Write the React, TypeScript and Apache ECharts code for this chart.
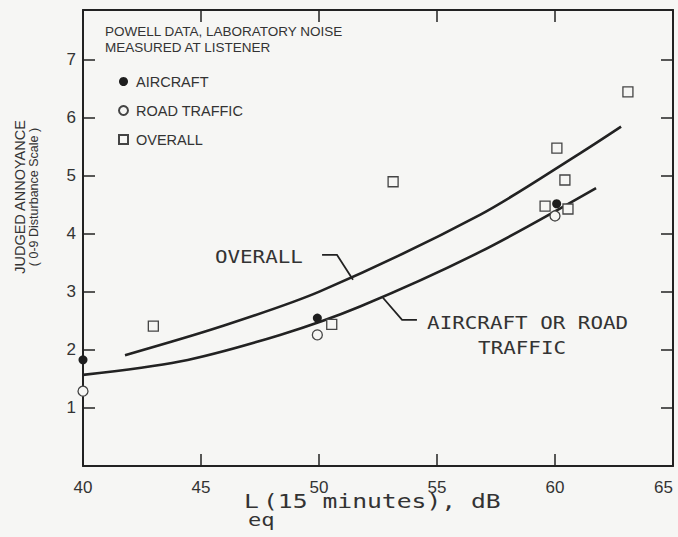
import React, { useEffect, useRef } from "react";
import * as echarts from "echarts";

// ---- data ----
const xTicks = [40, 45, 50, 55, 60, 65];
const yTicks = [1, 2, 3, 4, 5, 6, 7];

const aircraft = [
  [40.0, 1.83],
  [49.93, 2.55],
  [60.07, 4.52],
];
const roadTraffic = [
  [40.0, 1.29],
  [49.93, 2.26],
  [60.0, 4.31],
];
const overall = [
  [42.98, 2.41],
  [50.54, 2.44],
  [53.14, 4.9],
  [59.58, 4.48],
  [60.08, 5.48],
  [60.42, 4.93],
  [60.55, 4.43],
  [63.09, 6.45],
];
const overallFit = [
  [41.78, 1.91],
  [45.81, 2.4],
  [50.04, 3.01],
  [56.82, 4.33],
  [61.06, 5.39],
  [62.8, 5.85],
];
const aircraftRoadFit = [
  [40.0, 1.57],
  [44.1, 1.8],
  [48.35, 2.26],
  [51.74, 2.75],
  [56.82, 3.69],
  [61.74, 4.79],
];

// annotation anchors (data coordinates)
const overallLeader = [
  [51.44, 3.21],
  [50.76, 3.64],
  [50.13, 3.64],
];
const overallLabelAt = [45.59, 3.6];
const fitLeader = [
  [52.71, 2.9],
  [53.52, 2.52],
  [54.15, 2.52],
];
const fitLabel1At = [54.58, 2.47];
const fitLabel2At = [56.74, 2.03];

const SANS = "'Liberation Sans', Arial, Helvetica, sans-serif";
const MONO = "'DejaVu Sans Mono', 'Liberation Mono', monospace";
const INK = "#222";
const TXT = "#333";
const BG = "#f6f6f4";

export default function App() {
  const ref = useRef<HTMLDivElement>(null);

  useEffect(() => {
    if (!ref.current) return;
    const chart = echarts.init(ref.current, null, { renderer: "svg" });

    const axisLine = { show: true, onZero: false, lineStyle: { color: INK, width: 2 } };
    const tick = (vals: number[]) => ({
      show: true,
      inside: true,
      length: 12,
      customValues: vals,
      lineStyle: { color: INK, width: 1.5 },
    });

    const option: any = {
      animation: false,
      backgroundColor: BG,
      grid: {
        left: 83,
        right: 5,
        top: 10,
        bottom: 71,
        containLabel: false,
        outerBoundsMode: "none",
      },
      xAxis: [
        {
          type: "value",
          min: 40,
          max: 65,
          interval: 5,
          position: "bottom",
          axisLine,
          axisTick: tick(xTicks),
          axisLabel: {
            customValues: xTicks,
            fontSize: 17,
            color: TXT,
            fontFamily: SANS,
            margin: 13,
            alignMaxLabel: "right",
          },
          splitLine: { show: false },
        },
        {
          type: "value",
          min: 40,
          max: 65,
          interval: 5,
          position: "top",
          axisLine,
          axisTick: tick(xTicks),
          axisLabel: { show: false },
          splitLine: { show: false },
        },
      ],
      yAxis: [
        {
          type: "value",
          min: 0,
          max: 7.86,
          interval: 1,
          position: "left",
          axisLine,
          axisTick: tick(yTicks),
          axisLabel: {
            customValues: yTicks,
            fontSize: 17,
            color: TXT,
            fontFamily: SANS,
            margin: 7,
            formatter: (v: number) => (yTicks.includes(v) ? String(v) : ""),
          },
          splitLine: { show: false },
        },
        {
          type: "value",
          min: 0,
          max: 7.86,
          interval: 1,
          position: "right",
          axisLine,
          axisTick: tick(yTicks),
          axisLabel: { show: false },
          splitLine: { show: false },
        },
      ],
      legend: {
        data: ["AIRCRAFT", "ROAD TRAFFIC", "OVERALL"],
        orient: "vertical",
        left: 118,
        top: 74,
        padding: 0,
        itemWidth: 9,
        itemHeight: 9,
        itemGap: 14,
        textStyle: {
          fontSize: 14.5,
          lineHeight: 15,
          color: TXT,
          fontFamily: SANS,
          padding: [0, 0, 0, 3],
        },
      },
      series: [
        {
          name: "Overall fit",
          type: "line",
          data: overallFit,
          smooth: 0.3,
          showSymbol: false,
          lineStyle: { color: INK, width: 2.6 },
          z: 2,
        },
        {
          name: "Aircraft or road traffic fit",
          type: "line",
          data: aircraftRoadFit,
          smooth: 0.3,
          showSymbol: false,
          lineStyle: { color: INK, width: 2.6 },
          z: 2,
        },
        {
          name: "OVERALL",
          type: "scatter",
          data: overall,
          symbol: "rect",
          symbolSize: 10,
          itemStyle: { color: BG, borderColor: "#444", borderWidth: 1.3, opacity: 1 },
          z: 3,
        },
        {
          name: "ROAD TRAFFIC",
          type: "scatter",
          data: roadTraffic,
          symbol: "circle",
          symbolSize: 10,
          itemStyle: { color: BG, borderColor: "#444", borderWidth: 1.3, opacity: 1 },
          z: 4,
        },
        {
          name: "AIRCRAFT",
          type: "scatter",
          data: aircraft,
          symbol: "circle",
          symbolSize: 9,
          itemStyle: { color: "#1e1e1e", opacity: 1 },
          z: 5,
        },
      ],
    };

    chart.setOption(option);

    const px = (d: number[]) =>
      chart.convertToPixel({ xAxisIndex: 0, yAxisIndex: 0 }, d) as number[];

    const monoText = (at: number[], text: string) => {
      const p = px(at);
      return {
        type: "text",
        x: p[0],
        y: p[1],
        scaleX: 1.16,
        style: {
          text,
          fontFamily: MONO,
          fontSize: 18,
          fill: TXT,
          align: "left",
          verticalAlign: "middle",
        },
      };
    };

    const graphic: any[] = [
      // y-axis title
      {
        type: "text",
        x: 20,
        y: 197,
        rotation: Math.PI / 2,
        style: {
          text: "JUDGED ANNOYANCE",
          fontFamily: SANS,
          fontSize: 14.5,
          fill: TXT,
          align: "center",
          verticalAlign: "middle",
        },
      },
      {
        type: "text",
        x: 34,
        y: 197,
        rotation: Math.PI / 2,
        style: {
          text: "( 0-9 Disturbance Scale )",
          fontFamily: SANS,
          fontSize: 12.5,
          fill: TXT,
          align: "center",
          verticalAlign: "middle",
        },
      },
      // x-axis title
      {
        type: "text",
        x: 244,
        y: 502,
        scaleX: 1.3,
        style: { text: "L", fontFamily: MONO, fontSize: 19, fill: TXT, align: "left", verticalAlign: "middle" },
      },
      {
        type: "text",
        x: 248,
        y: 520,
        scaleX: 1.3,
        style: { text: "eq", fontFamily: MONO, fontSize: 17, fill: TXT, align: "left", verticalAlign: "middle" },
      },
      {
        type: "text",
        x: 263,
        y: 502,
        scaleX: 1.3,
        style: {
          text: "(15 minutes), dB",
          fontFamily: MONO,
          fontSize: 19,
          fill: TXT,
          align: "left",
          verticalAlign: "middle",
        },
      },
      // legend header
      {
        type: "text",
        x: 105,
        y: 31,
        style: {
          text: "POWELL DATA, LABORATORY NOISE",
          fontFamily: SANS,
          fontSize: 13.5,
          fill: TXT,
          align: "left",
          verticalAlign: "middle",
        },
      },
      {
        type: "text",
        x: 105,
        y: 47,
        style: {
          text: "MEASURED AT LISTENER",
          fontFamily: SANS,
          fontSize: 13.5,
          fill: TXT,
          align: "left",
          verticalAlign: "middle",
        },
      },
      // annotations
      {
        type: "polyline",
        shape: { points: overallLeader.map(px) },
        style: { stroke: INK, lineWidth: 1.8, fill: null },
      },
      {
        type: "polyline",
        shape: { points: fitLeader.map(px) },
        style: { stroke: INK, lineWidth: 1.8, fill: null },
      },
      monoText(overallLabelAt, "OVERALL"),
      monoText(fitLabel1At, "AIRCRAFT OR ROAD"),
      monoText(fitLabel2At, "TRAFFIC"),
    ];

    chart.setOption({ graphic });

    return () => chart.dispose();
  }, []);

  return (
    <div
      ref={ref}
      style={{ position: "absolute", left: 0, top: 0, width: 678, height: 537 }}
    />
  );
}
